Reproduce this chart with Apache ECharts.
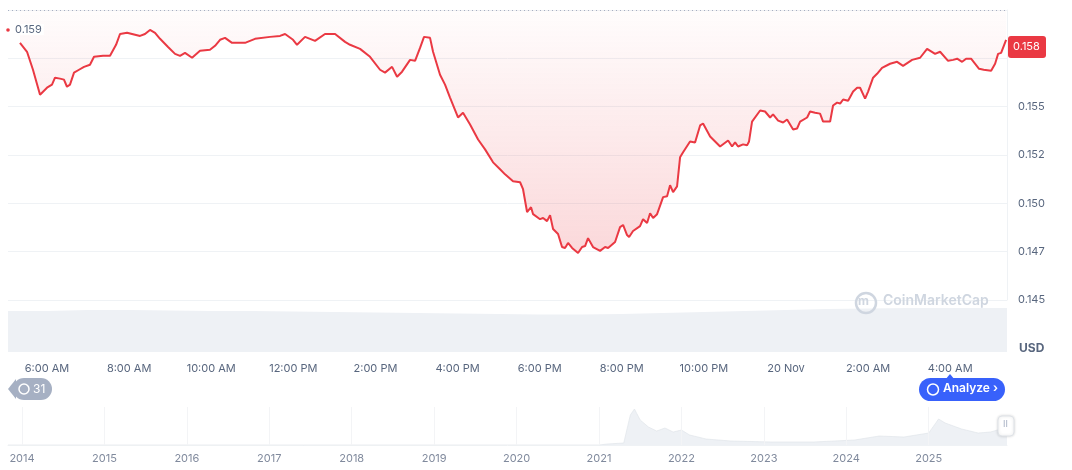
<!DOCTYPE html>
<html><head><meta charset="utf-8">
<script src="https://cdn.jsdelivr.net/npm/echarts@6/dist/echarts.min.js"></script>
<style>html,body{margin:0;padding:0;background:#fff}#c{width:1072px;height:470px}</style>
</head><body><div id="c"></div>
<script>
// minutes since 05:00 AM (19 Nov)
const priceMinutes = [20.5,30.8,39.5,49.8,60.0,67.3,71.7,79.0,84.8,89.2,93.6,99.5,106.8,114.1,122.8,128.7,141.9,152.1,160.9,166.7,177.0,196.0,203.2,210.5,217.9,225.2,236.9,247.1,254.4,261.7,272.0,283.6,298.2,305.6,312.9,320.2,330.4,349.4,364.0,386.0,400.6,407.9,419.6,425.4,437.1,451.7,466.3,481.0,495.6,502.9,517.5,532.1,546.7,554.0,564.3,571.6,578.9,590.6,597.9,605.2,611.0,619.8,624.2,634.4,641.7,649.0,660.7,668.0,678.3,690.0,700.2,711.9,722.1,729.4,741.1,751.4,755.7,761.6,767.4,770.4,780.6,785.0,790.8,795.2,799.6,806.9,812.7,817.1,821.5,827.4,836.1,842.0,846.4,850.7,858.0,868.3,875.6,880.0,890.2,897.5,901.9,907.7,910.7,916.5,926.7,931.1,937.0,941.4,945.8,951.6,960.4,966.2,970.6,975.0,980.8,985.2,989.6,999.8,1007.1,1014.5,1018.8,1029.1,1043.7,1055.4,1061.2,1065.6,1070.0,1077.3,1083.1,1086.0,1090.4,1102.2,1109.4,1116.8,1121.1,1128.5,1135.8,1141.6,1150.4,1156.2,1160.6,1170.9,1175.2,1182.5,1189.8,1194.2,1204.5,1208.8,1214.7,1219.1,1223.5,1230.8,1238.1,1244.0,1248.3,1255.6,1260.0,1267.3,1273.1,1280.4,1292.1,1302.4,1311.1,1324.3,1336.0,1346.2,1357.9,1365.2,1376.9,1384.2,1390.1,1393.0,1397.4,1403.2,1410.5,1422.2,1429.0,1439.8,1445.6,1450.0,1454.4,1461.7];
const priceValues = [0.15830,0.15784,0.15691,0.15562,0.15598,0.15614,0.15650,0.15645,0.15640,0.15603,0.15614,0.15676,0.15691,0.15706,0.15717,0.15758,0.15763,0.15763,0.15820,0.15876,0.15882,0.15866,0.15876,0.15897,0.15882,0.15851,0.15809,0.15773,0.15763,0.15778,0.15753,0.15789,0.15794,0.15815,0.15846,0.15856,0.15830,0.15830,0.15851,0.15861,0.15866,0.15876,0.15846,0.15820,0.15861,0.15840,0.15876,0.15876,0.15835,0.15820,0.15799,0.15758,0.15691,0.15676,0.15706,0.15655,0.15681,0.15742,0.15737,0.15804,0.15861,0.15856,0.15784,0.15665,0.15614,0.15547,0.15444,0.15469,0.15408,0.15330,0.15279,0.15212,0.15176,0.15150,0.15114,0.15109,0.15073,0.14955,0.14980,0.14944,0.14918,0.14924,0.14908,0.14939,0.14867,0.14841,0.14774,0.14769,0.14795,0.14769,0.14743,0.14774,0.14779,0.14820,0.14774,0.14754,0.14774,0.14769,0.14800,0.14877,0.14888,0.14836,0.14826,0.14857,0.14882,0.14918,0.14898,0.14949,0.14924,0.14944,0.15032,0.15037,0.15094,0.15058,0.15088,0.15238,0.15264,0.15320,0.15315,0.15403,0.15413,0.15346,0.15294,0.15325,0.15294,0.15315,0.15294,0.15305,0.15300,0.15320,0.15423,0.15480,0.15475,0.15444,0.15460,0.15428,0.15418,0.15434,0.15382,0.15387,0.15423,0.15444,0.15475,0.15469,0.15464,0.15423,0.15423,0.15506,0.15521,0.15516,0.15537,0.15531,0.15578,0.15598,0.15598,0.15542,0.15578,0.15650,0.15670,0.15701,0.15722,0.15732,0.15711,0.15742,0.15753,0.15799,0.15773,0.15784,0.15737,0.15742,0.15748,0.15748,0.15732,0.15748,0.15748,0.15696,0.15691,0.15686,0.15722,0.15773,0.15778,0.15845,0.15835,0.15804];
const volumeMinutes = [3,60,120,180,240,300,360,420,480,540,600,660,720,780,840,900,960,1020,1080,1140,1200,1260,1320,1380,1440,1463];
const volumeValues = [41,41,42,42,41.5,41,41,40.5,40,39.5,39,38.5,38,37.5,37.5,38,39,40,41,42,43,43.5,44,44,44,44];
const timeTickMinutes = [60,180,300,420,540,660,780,900,1020,1140,1260,1380];
const timeTickLabels = ['6:00 AM','8:00 AM','10:00 AM','12:00 PM','2:00 PM','4:00 PM','6:00 PM','8:00 PM','10:00 PM','20 Nov','2:00 AM','4:00 AM'];
const priceTicks = [0.145,0.1475,0.15,0.1525,0.155];
const priceTickLabels = ['0.145','0.147','0.150','0.152','0.155'];
const navYears = [2013.83,2021.0,2021.1,2021.3,2021.38,2021.43,2021.5,2021.6,2021.7,2021.8,2021.9,2022.0,2022.1,2022.3,2022.6,2023.1,2023.6,2024.1,2024.4,2024.7,2025.0,2025.12,2025.2,2025.4,2025.6,2025.75,2025.88,2025.95];
const navValues = [0,0,1,2,30,36,25,18,14,17,13,15,10,6,4,3,3,5,9,8,12,26,22,16,12,13,16,14];
const yearTicks = [2014,2015,2016,2017,2018,2019,2020,2021,2022,2023,2024,2025];
const highValue = 0.159, lastValue = '0.158';

const chart = echarts.init(document.getElementById('c'));
const gray = '#58667e', grid = '#eff2f5';
chart.setOption({
  animation:false,
  grid:[
    {left:8,right:65,top:10,height:290},
    {left:8,right:65,top:300,height:52},
    {left:8,right:65,top:407,height:38}
  ],
  xAxis:[
    {gridIndex:0,type:'value',min:3,max:1463,show:false},
    {gridIndex:1,type:'value',min:3,max:1463,axisLine:{show:false},axisTick:{show:false},splitLine:{show:false},
     axisLabel:{customValues:timeTickMinutes,color:gray,fontSize:11,margin:11,fontFamily:'Inter',
       formatter:v=>timeTickLabels[timeTickMinutes.indexOf(v)]||''}},
    {gridIndex:2,type:'value',min:2013.83,max:2025.95,axisLine:{lineStyle:{color:grid}},axisTick:{show:false},
     splitLine:{show:false},
     axisLabel:{customValues:yearTicks,color:'#808a9d',fontSize:11,margin:8,fontFamily:'Inter',formatter:v=>String(v)}}
  ],
  yAxis:[
    {gridIndex:0,type:'value',min:0.145,max:0.16,interval:0.0025,position:'right',
     axisLine:{show:true,lineStyle:{color:grid}},axisTick:{show:false},
     splitLine:{lineStyle:{color:grid}},
     axisLabel:{customValues:priceTicks,color:gray,fontSize:11,margin:11,fontFamily:'Inter',
       formatter:v=>{const i=priceTicks.findIndex(t=>Math.abs(t-v)<1e-7);return i>=0?priceTickLabels[i]:'';}}},
    {gridIndex:1,type:'value',min:0,max:52,show:false},
    {gridIndex:2,type:'value',min:0,max:38,show:false}
  ],
  series:[
    {type:'line',xAxisIndex:1,yAxisIndex:1,data:volumeMinutes.map((m,i)=>[m,volumeValues[i]]),
     symbol:'none',lineStyle:{width:0},areaStyle:{color:'#eef1f5',opacity:1},z:1},
    {type:'line',xAxisIndex:0,yAxisIndex:0,data:priceMinutes.map((m,i)=>[m,priceValues[i]]),
     symbol:'none',lineStyle:{color:'#ea3943',width:2},z:5,
     areaStyle:{origin:'end',color:new echarts.graphic.LinearGradient(0,0,0,1,[
       {offset:0,color:'rgba(234,57,67,0.02)'},{offset:1,color:'rgba(234,57,67,0.28)'}])},
     markLine:{silent:true,symbol:'none',lineStyle:{color:'#a6b0c3',type:[1,3],width:1},
       label:{show:false},data:[{yAxis:highValue}]}},
    {type:'line',xAxisIndex:2,yAxisIndex:2,data:navYears.map((y,i)=>[y,navValues[i]]),
     symbol:'none',lineStyle:{width:0.6,color:'#dde2e8'},areaStyle:{color:'#eef1f5',opacity:1},
     markLine:{silent:true,symbol:'none',lineStyle:{color:'#f3f4f6',type:'solid',width:1},label:{show:false},
       data:yearTicks.map(y=>({xAxis:y}))}}
  ],
  graphic:[
    {type:'circle',shape:{cx:8,cy:30,r:1.8},style:{fill:'#ea3943'},z:20},
    {type:'text',left:13,top:24,style:{text:'0.159',fill:gray,font:'11px Inter',backgroundColor:'#fff',padding:[0,2]},z:20},
    {type:'rect',shape:{x:1008,y:36,width:38,height:22,r:3},style:{fill:'#ea3943'},z:20},
    {type:'text',left:1013,top:41,style:{text:lastValue,fill:'#fff',font:'11px Inter'},z:21},
    {type:'text',left:1019,top:342,style:{text:'USD',fill:gray,font:'bold 12px Inter'},z:20},
    {type:'circle',shape:{cx:866,cy:303,r:10},style:{fill:'none',stroke:'#cfd6e0',lineWidth:2.5},z:20},
    {type:'text',left:858,top:295,style:{text:'m',fill:'#cfd6e0',font:'bold 12px Inter'},z:20},
    {type:'text',left:883,top:294,style:{text:'CoinMarketCap',fill:'#cfd6e0',font:'600 14px Inter'},z:20},
    {type:'polygon',shape:{points:[[8,389],[16,379],[16,399]]},style:{fill:'#a6b0c3'},z:20},
    {type:'rect',shape:{x:13,y:378,width:39,height:22,r:11},style:{fill:'#a6b0c3'},z:20},
    {type:'circle',shape:{cx:24,cy:389,r:5},style:{fill:'none',stroke:'#fff',lineWidth:1.5},z:21},
    {type:'text',left:33,top:383,style:{text:'31',fill:'#fff',font:'12px Inter'},z:21},
    {type:'polygon',shape:{points:[[945,380],[950,374],[955,380]]},style:{fill:'#3861fb'},z:20},
    {type:'rect',shape:{x:919,y:378,width:86,height:23,r:11.5},style:{fill:'#3861fb'},z:20},
    {type:'circle',shape:{cx:933,cy:389.5,r:5.5},style:{fill:'none',stroke:'#fff',lineWidth:1.5},z:21},
    {type:'text',left:943,top:382,style:{text:'Analyze ›',fill:'#fff',font:'600 12px Inter'},z:21},
    {type:'rect',shape:{x:998,y:416,width:16,height:20,r:4},style:{fill:'#fff',stroke:'#dfe3e8',shadowBlur:3,shadowColor:'rgba(0,0,0,0.15)'},z:20},
    {type:'text',left:1003,top:420,style:{text:'II',fill:'#a6b0c3',font:'9px Inter'},z:21}
  ]
});
</script></body></html>
